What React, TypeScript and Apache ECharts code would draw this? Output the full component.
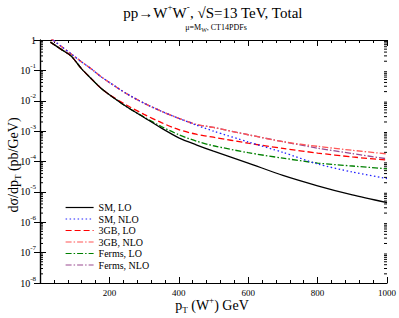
import React, { useEffect, useRef } from "react";
import * as echarts from "echarts";

const pT = [30, 60, 90, 120, 150, 175, 200, 250, 300, 350, 400, 450, 500, 600, 700, 800, 900, 1000];

const smLO = [0.851, 0.501, 0.295, 0.112, 0.0501, 0.0263, 0.0158, 6.31e-3, 2.82e-3, 1.26e-3, 6.03e-4, 3.55e-4, 2.19e-4, 8.9e-5, 3.47e-5, 1.58e-5, 7.9e-6, 4.4e-6];
const smNLO = [1.17, 0.63, 0.347, 0.19, 0.107, 0.063, 0.04, 0.017, 8.3e-3, 4.5e-3, 2.63e-3, 1.58e-3, 1.0e-3, 4.4e-4, 2.0e-4, 8.3e-5, 4.5e-5, 2.75e-5];
const gbLO = [0.851, 0.501, 0.295, 0.112, 0.0501, 0.0263, 0.0158, 7.1e-3, 3.55e-3, 1.9e-3, 1.12e-3, 7.9e-4, 6.3e-4, 4.0e-4, 2.7e-4, 1.9e-4, 1.41e-4, 1.12e-4];
const gbNLO = [1.17, 0.63, 0.347, 0.19, 0.107, 0.063, 0.04, 0.017, 8.3e-3, 4.5e-3, 2.63e-3, 1.66e-3, 1.32e-3, 7.6e-4, 4.5e-4, 3.16e-4, 2.34e-4, 1.78e-4];
const fermsLO = [0.851, 0.501, 0.295, 0.112, 0.0501, 0.0263, 0.0158, 6.31e-3, 2.9e-3, 1.41e-3, 7.6e-4, 4.7e-4, 3.3e-4, 1.95e-4, 1.29e-4, 8.9e-5, 7.1e-5, 5.75e-5];
const fermsNLO = [1.17, 0.63, 0.347, 0.19, 0.107, 0.063, 0.04, 0.017, 8.3e-3, 4.5e-3, 2.63e-3, 1.66e-3, 1.32e-3, 7.6e-4, 4.5e-4, 2.75e-4, 1.82e-4, 1.23e-4];

const seriesNames = ["SM, LO", "SM, NLO", "3GB, LO", "3GB, NLO", "Ferms, LO", "Ferms, NLO"];

const minorY: number[] = [];
for (let e = -8; e < 0; e++) {
  for (let m = 2; m <= 9; m++) minorY.push(m * Math.pow(10, e));
}

const FONT = "Liberation Serif";

export default function App() {
  const ref = useRef<HTMLDivElement>(null);
  useEffect(() => {
    if (!ref.current) return;
    const chart = echarts.init(ref.current, null, { renderer: "svg" });
    const mk = (ys: number[]) => pT.map((x, i) => [x, ys[i]]);
    const styles = [
      { color: "#000000", type: "solid" as any, data: smLO },
      { color: "#2222ff", type: [1.5, 2.5] as any, data: smNLO },
      { color: "#ff0000", type: [6, 3] as any, data: gbLO },
      { color: "#ff5555", type: [6, 2, 1.5, 2] as any, data: gbNLO },
      { color: "#008000", type: [6, 2, 1.5, 2] as any, data: fermsLO },
      { color: "#9a4a90", type: [6, 2, 1.5, 2] as any, data: fermsNLO },
    ];
    const rich = {
      t: { fontFamily: FONT, fontSize: 15, color: "#000" },
      tsup: { fontFamily: FONT, fontSize: 9, color: "#000", padding: [0, 0, 12, 0] },
      b: { fontFamily: FONT, fontSize: 14, color: "#000" },
      sup: { fontFamily: FONT, fontSize: 9, color: "#000", padding: [0, 0, 11, 0] },
      sub: { fontFamily: FONT, fontSize: 9, color: "#000", padding: [10, 0, 0, 0] },
      s: { fontFamily: FONT, fontSize: 8, color: "#000" },
      ssub: { fontFamily: FONT, fontSize: 6, color: "#000", padding: [6, 0, 0, 0] },
      lb: { fontFamily: FONT, fontSize: 10, color: "#000" },
      lsup: { fontFamily: FONT, fontSize: 7, color: "#000", padding: [0, 0, 9, 0] },
    };
    const option: any = {
      animation: false,
      backgroundColor: "#fff",
      grid: { left: 40, right: 12, top: 40, bottom: 35 },
      legend: {
        orient: "vertical",
        left: 60,
        top: 197,
        itemWidth: 28,
        itemHeight: 8,
        itemGap: 0.5,
        data: seriesNames,
        itemStyle: { opacity: 0 },
        lineStyle: { width: 1.2 },
        textStyle: { fontFamily: FONT, fontSize: 10, color: "#000", lineHeight: 11 },
      },
      graphic: [
        {
          type: "text",
          x: 213,
          y: 13,
          style: {
            text: "{t|pp→W}{tsup|+}{t|W}{tsup|-}{t|, √S=13 TeV, Total}",
            rich,
            align: "center",
            verticalAlign: "middle",
          },
        },
        {
          type: "text",
          x: 216,
          y: 27,
          style: {
            text: "{s|μ=M}{ssub|W}{s|, CT14PDFs}",
            rich,
            align: "center",
            verticalAlign: "middle",
          },
        },
        {
          type: "text",
          x: 212,
          y: 305,
          style: {
            text: "{b|p}{sub|T}{b| (W}{sup|+}{b|) GeV}",
            rich,
            align: "center",
            verticalAlign: "middle",
          },
        },
        {
          type: "text",
          x: 13,
          y: 165,
          rotation: Math.PI / 2,
          style: {
            text: "{b|dσ/dp}{sub|T}{b| (pb/GeV)}",
            rich,
            align: "center",
            verticalAlign: "middle",
          },
        },
      ],
      xAxis: [
        {
          type: "value",
          min: 0,
          max: 1000,
          interval: 200,
          position: "bottom",
          axisLine: { lineStyle: { color: "#000", width: 1.2 } },
          axisTick: { inside: true, length: 6, lineStyle: { color: "#000" } },
          minorTick: { show: true, splitNumber: 5, length: 3, lineStyle: { color: "#000" } },
          splitLine: { show: false },
          axisLabel: {
            fontFamily: FONT,
            fontSize: 9,
            color: "#000",
            margin: 5,
            formatter: (v: number) => (v === 0 ? "" : String(v)),
          },
        },
        {
          type: "value",
          min: 0,
          max: 1000,
          interval: 200,
          position: "top",
          axisLine: { lineStyle: { color: "#000", width: 1.2 } },
          axisTick: { inside: true, length: 6, lineStyle: { color: "#000" } },
          minorTick: { show: true, splitNumber: 5, length: 3, lineStyle: { color: "#000" } },
          splitLine: { show: false },
          axisLabel: { show: false },
        },
      ],
      yAxis: [
        {
          type: "log",
          logBase: 10,
          min: 1e-8,
          max: 1,
          interval: 1,
          position: "left",
          axisLine: { show: true, lineStyle: { color: "#000", width: 1.2 } },
          axisTick: { inside: true, length: 6, lineStyle: { color: "#000" } },
          splitLine: { show: false },
          axisLabel: {
            margin: 4,
            rich,
            formatter: (v: number) => {
              const e = Math.round(Math.log10(v));
              if (e === 0) return "{lb|1}";
              return "{lb|10}{lsup|" + e + "}";
            },
          },
        },
        {
          type: "log",
          logBase: 10,
          min: 1e-8,
          max: 1,
          interval: 1,
          position: "right",
          axisLine: { show: true, lineStyle: { color: "#000", width: 1.2 } },
          axisTick: { inside: true, length: 6, lineStyle: { color: "#000" } },
          splitLine: { show: false },
          axisLabel: { show: false },
        },
      ],
      series: [
        ...styles.map((s, i) => ({
          name: seriesNames[i],
          type: "line",
          xAxisIndex: 0,
          yAxisIndex: 0,
          data: mk(s.data),
          symbol: "none",
          smooth: 0.25,
          clip: true,
          z: 10 - i,
          lineStyle: { color: s.color, width: 1.3, type: s.type },
          itemStyle: { color: s.color },
        })),
        {
          type: "custom",
          name: "minorTicks",
          xAxisIndex: 0,
          yAxisIndex: 0,
          silent: true,
          clip: false,
          data: minorY.map((v) => [0, v]),
          encode: { x: 0, y: 1 },
          renderItem: (params: any, api: any) => {
            const v = api.value(1);
            const a = api.coord([0, v]);
            const b = api.coord([1000, v]);
            return {
              type: "group",
              children: [
                { type: "line", shape: { x1: a[0], y1: a[1], x2: a[0] + 3, y2: a[1] }, style: { stroke: "#000", lineWidth: 1 } },
                { type: "line", shape: { x1: b[0] - 3, y1: b[1], x2: b[0], y2: b[1] }, style: { stroke: "#000", lineWidth: 1 } },
              ],
            };
          },
        },
      ],
    };
    chart.setOption(option);
    return () => chart.dispose();
  }, []);
  return <div ref={ref} style={{ width: 399, height: 318, position: "absolute", left: 0, top: 0 }} />;
}
